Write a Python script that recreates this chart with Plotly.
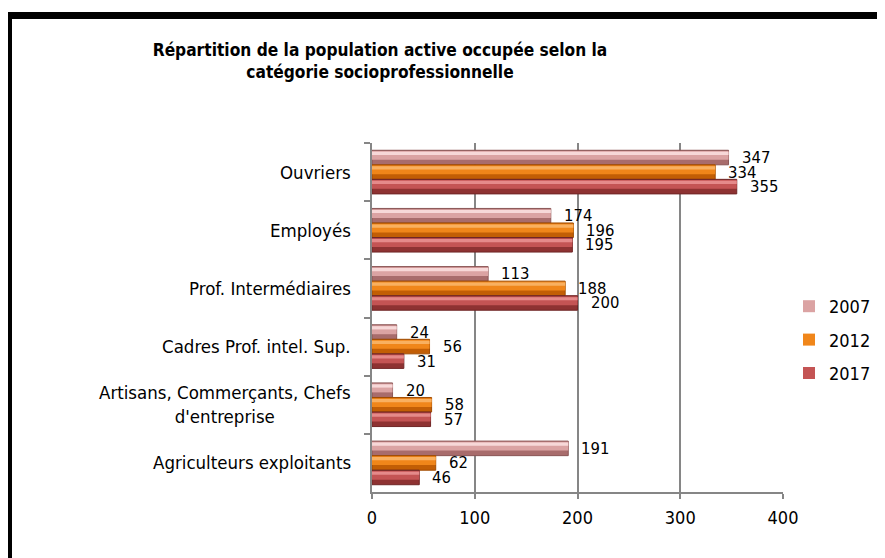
import plotly.graph_objects as go

categories = ["Ouvriers", "Employés", "Prof. Intermédiaires", "Cadres Prof. intel. Sup.",
              "Artisans, Commerçants, Chefs<br>d'entreprise", "Agriculteurs exploitants"]
series_names = ["2007", "2012", "2017"]
values_2007 = [347, 174, 113, 24, 20, 191]
values_2012 = [334, 196, 188, 56, 58, 62]
values_2017 = [355, 195, 200, 31, 57, 46]
x_ticks = [0, 100, 200, 300, 400]
title_text = "Répartition de la population active occupée selon la<br>catégorie socioprofessionnelle"

# page body has an 8px margin; figure coordinates are page coordinates minus 8
OFF = 8
W, H = 885 - OFF, 558 - OFF
L, R, T, B = 372 - OFF, 783 - OFF, 143 - OFF, 492 - OFF
FONT = "DejaVu Sans Condensed, Tahoma, DejaVu Sans, sans-serif"

# name, values, dark (bottom), mid, highlight, edge
series = [
    ("2007", values_2007, "#a86c6c", "#dba3a3", "#f7d8d8", "#8a5555"),
    ("2012", values_2012, "#c25e05", "#f0861a", "#f9b060", "#a04c00"),
    ("2017", values_2017, "#8e3232", "#c45454", "#e58a8a", "#702626"),
]
bw = 0.25
offsets = [-0.375, -0.125, 0.125]

fig = go.Figure()
for (name, vals, dark, mid, hi, edge), off in zip(series, offsets):
    fig.add_trace(go.Bar(
        x=vals, y=categories, orientation="h",
        width=bw, offset=off,
        marker=dict(color=dark, line=dict(color=edge, width=1)),
        legendgroup=name, showlegend=False, hoverinfo="x",
    ))
    fig.add_trace(go.Bar(
        name=name, x=vals, y=categories, orientation="h",
        width=bw * 0.6, offset=off + bw * 0.05,
        marker=dict(color=mid, line=dict(width=0)),
        legendgroup=name, showlegend=True, hoverinfo="skip",
    ))
    fig.add_trace(go.Bar(
        x=vals, y=categories, orientation="h",
        width=bw * 0.22, offset=off + bw * 0.1,
        marker=dict(color=hi, line=dict(width=0)),
        legendgroup=name, showlegend=False, hoverinfo="skip",
    ))

px_per_cat = (B - T) / len(categories)
for (name, vals, dark, mid, hi, edge), off in zip(series, offsets):
    center = off + bw / 2
    for cat, v in zip(categories, vals):
        fig.add_annotation(
            x=v, y=cat, xref="x", yref="y", text=str(v), showarrow=False,
            xanchor="left", yanchor="middle", xshift=11, yshift=-center * px_per_cat,
            font=dict(family=FONT, size=16.5, color="#000000"),
        )

for cat in categories:
    fig.add_annotation(
        x=-19 / (R - L), y=cat, xref="paper", yref="y", text=cat, showarrow=False,
        xanchor="right", yanchor="middle", align="center",
        font=dict(family=FONT, size=18.5, color="#000000"),
    )

fig.add_shape(
    type="rect", xref="paper", yref="paper",
    x0=(8.5 - OFF - L) / (R - L), x1=(905 - L) / (R - L),
    y0=(B - 580) / (B - T), y1=(B - (15.5 - OFF)) / (B - T),
    line=dict(color="#000000", width=7), fillcolor="rgba(0,0,0,0)", layer="above",
)

fig.update_layout(
    width=W, height=H,
    margin=dict(l=L, r=W - R, t=T, b=H - B, autoexpand=False),
    paper_bgcolor="white", plot_bgcolor="white",
    barmode="overlay",
    title=dict(text="<b>" + title_text + "</b>", x=(380 - OFF) / W, xanchor="center",
               y=1 - 48 / H, yanchor="top",
               font=dict(family=FONT, size=17.2, color="#000000")),
    showlegend=True,
    legend=dict(x=(789 - OFF - L) / (R - L), xanchor="left", y=(B - (340 - OFF)) / (B - T), yanchor="middle",
                font=dict(family=FONT, size=18, color="#000000"),
                tracegroupgap=7, bgcolor="rgba(0,0,0,0)", itemwidth=30),
    xaxis=dict(range=[0, 400], tickvals=x_ticks, ticktext=[str(t) for t in x_ticks],
               showgrid=True, gridcolor="#868686", gridwidth=1.5,
               showline=True, linecolor="#868686", linewidth=1.5,
               ticks="outside", ticklen=5, tickcolor="#868686", tickwidth=1.5,
               ticklabelstandoff=4, zeroline=False,
               tickfont=dict(family=FONT, size=18, color="#000000")),
    yaxis=dict(type="category", categoryorder="array", categoryarray=categories,
               range=[len(categories) - 0.5, -0.5],
               showgrid=False, showline=True, linecolor="#868686", linewidth=1.5,
               ticks="outside", tickson="boundaries", ticklen=6, tickcolor="#868686", tickwidth=1.5,
               showticklabels=False),
)

fig.write_html("out.html")
